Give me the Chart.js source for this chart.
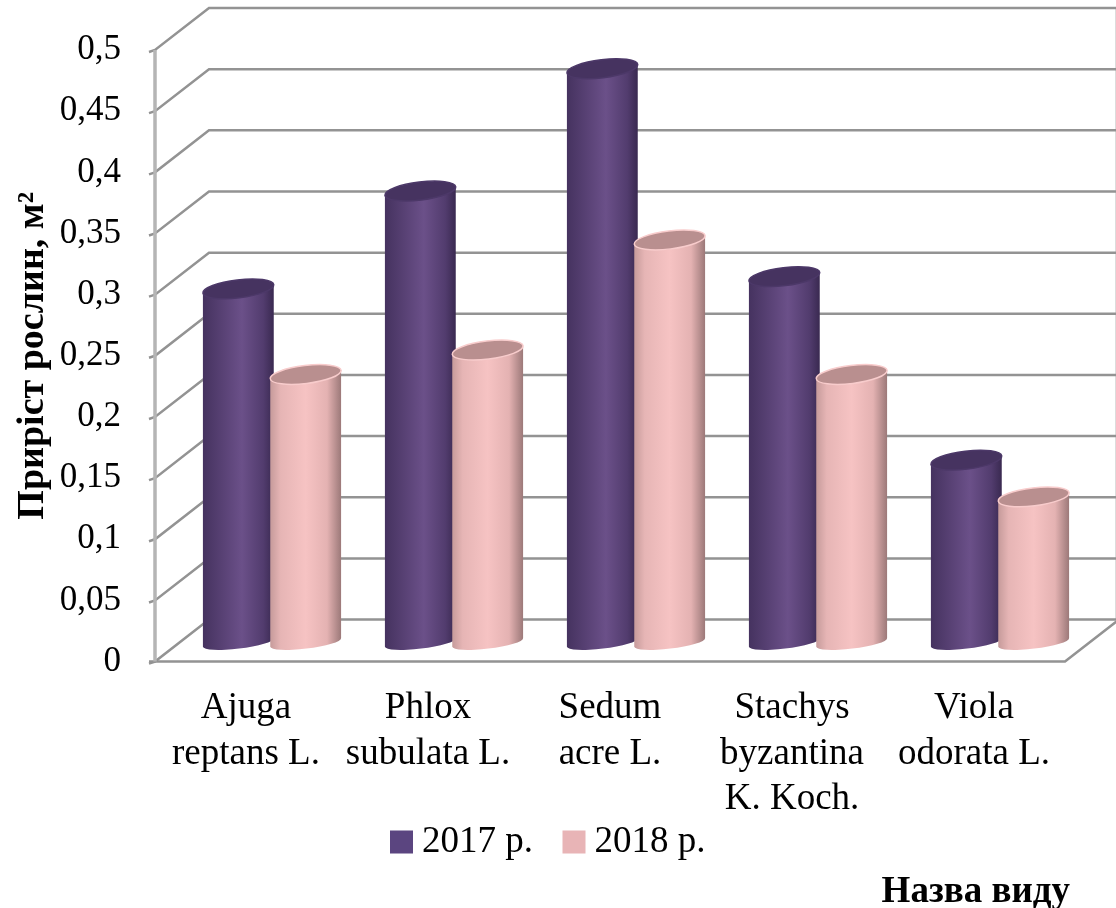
<!DOCTYPE html>
<html lang="uk">

<head>
    <meta charset="UTF-8">
    <title>Приріст рослин</title>
    <script src="https://cdn.jsdelivr.net/npm/chart.js"></script>
    <style>
        body {
            margin: 0;
            background: #fff;
        }
    </style>
</head>

<body>
    <canvas id="chart" width="1116" height="908"></canvas>
    <script>
        const categories = [
            ['Ajuga', 'reptans L.'],
            ['Phlox', 'subulata L.'],
            ['Sedum', 'acre L.'],
            ['Stachys', 'byzantina', 'K. Koch.'],
            ['Viola', 'odorata L.']
        ];
        const values2017 = [0.29, 0.37, 0.47, 0.30, 0.15];
        const values2018 = [0.22, 0.24, 0.33, 0.22, 0.12];
        const yTickLabels = ['0', '0,05', '0,1', '0,15', '0,2', '0,25', '0,3', '0,35', '0,4', '0,45', '0,5'];

        const fontFamily = '"Liberation Serif", "Times New Roman", serif';

        // depth of the fake 3d box and where the bars stand inside it
        const wallDx = 54, wallDy = -42;
        const barDx = 26, barDy = -18;
        const tilt = 0.12;

        const bodyStops = [
            [[0, '#45325f'], [0.55, '#6b5089'], [0.85, '#523c6e'], [1, '#392950']],
            [[0, '#c59a9a'], [0.15, '#e6b5b5'], [0.5, '#f6c3c3'], [0.8, '#e4b2b2'], [1, '#9b7878']]
        ];
        const topFill = ['#463360', '#b98f8f'];
        const topRim = ['#4c3868', '#f8cccc'];

        function drawWalls(chart) {
            const ctx = chart.ctx;
            const area = chart.chartArea;
            const yScale = chart.scales.y;
            ctx.save();
            // faint right edge of the back wall
            ctx.lineWidth = 1;
            ctx.strokeStyle = '#dcdcdc';
            ctx.beginPath();
            ctx.moveTo(chart.width - 0.5, area.top + wallDy);
            ctx.lineTo(chart.width - 0.5, area.bottom + wallDy);
            ctx.stroke();

            ctx.lineWidth = 2.5;
            ctx.strokeStyle = '#939393';
            yScale.ticks.forEach(function (tick) {
                const y = yScale.getPixelForValue(tick.value);
                ctx.beginPath();
                ctx.moveTo(area.left - 6, y + 2);
                ctx.lineTo(area.left, y);
                ctx.lineTo(area.left + wallDx, y + wallDy);
                ctx.lineTo(chart.width, y + wallDy);
                ctx.stroke();
            });
            // floor
            ctx.beginPath();
            ctx.moveTo(area.left - 6, area.bottom);
            ctx.lineTo(area.right, area.bottom);
            ctx.lineTo(area.right + wallDx, area.bottom + wallDy);
            ctx.stroke();
            // axis line
            ctx.strokeStyle = '#b5b5b5';
            ctx.lineWidth = 3.5;
            ctx.beginPath();
            ctx.moveTo(area.left, area.top);
            ctx.lineTo(area.left, area.bottom);
            ctx.stroke();
            ctx.restore();
        }

        function drawCylinder(ctx, bar, index) {
            const cx = bar.x + barDx;
            const topY = bar.y + barDy;
            const baseY = bar.base + barDy;
            const rx = bar.width / 2 + 2;
            const ry = 9;
            const grad = ctx.createLinearGradient(cx - rx, 0, cx + rx, 0);
            bodyStops[index].forEach(function (s) {
                grad.addColorStop(s[0], s[1]);
            });
            const ox = rx * Math.cos(tilt);
            const oy = rx * Math.sin(tilt);

            ctx.beginPath();
            ctx.ellipse(cx, baseY - 1, rx, 6, -tilt, Math.PI, 0, true);
            ctx.lineTo(cx + ox, topY - oy);
            ctx.lineTo(cx - ox, topY + oy);
            ctx.closePath();
            ctx.fillStyle = grad;
            ctx.fill();

            ctx.beginPath();
            ctx.ellipse(cx, topY, rx, ry, -tilt, 0, Math.PI * 2);
            ctx.fillStyle = topFill[index];
            ctx.fill();
            ctx.lineWidth = 1.5;
            ctx.strokeStyle = topRim[index];
            ctx.stroke();
        }

        const fake3d = {
            id: 'fake3d',
            afterLayout(chart) {
                // legend and the bottom title sit off the plot centre in the original
                chart.legend.left += 20;
                chart.legend.right += 20;
                chart.titleBlock.left += 5;
                chart.titleBlock.right += 5;
                // the three line label hangs past the fitted axis height, keep it from being clipped
                chart.scales.x.bottom = chart.height;
            },
            beforeDatasetsDraw(chart) {
                drawWalls(chart);
                chart.data.datasets.forEach(function (ds, index) {
                    chart.getDatasetMeta(index).data.forEach(function (bar) {
                        drawCylinder(chart.ctx, bar, index);
                    });
                });
            },
            // the cylinders above replace the flat bars
            beforeDatasetDraw() {
                return false;
            }
        };

        new Chart(document.getElementById('chart'), {
            type: 'bar',
            plugins: [fake3d],
            data: {
                labels: categories,
                datasets: [
                    { label: '2017 р.', data: values2017, backgroundColor: '#5b4580', borderWidth: 0 },
                    { label: '2018 р.', data: values2018, backgroundColor: '#e8b4b6', borderWidth: 0 }
                ]
            },
            options: {
                responsive: false,
                animation: false,
                categoryPercentage: 0.74,
                barPercentage: 1,
                layout: { padding: { top: 50, right: 51, bottom: -7, left: 0 } },
                scales: {
                    x: {
                        grid: { display: false },
                        border: { display: false },
                        afterFit(scale) { scale.height = 123; },
                        ticks: {
                            color: '#000',
                            padding: 16,
                            maxRotation: 0,
                            autoSkip: false,
                            font: { family: fontFamily, size: 37, lineHeight: 1.23 }
                        }
                    },
                    y: {
                        min: 0,
                        max: 0.5,
                        grid: { display: false },
                        border: { display: false },
                        afterFit(scale) { scale.width = 155; },
                        ticks: {
                            stepSize: 0.05,
                            color: '#000',
                            padding: 26,
                            font: { family: fontFamily, size: 35 },
                            callback: function (value, index) { return yTickLabels[index]; }
                        },
                        title: {
                            display: true,
                            text: 'Приріст рослин, м²',
                            color: '#000',
                            padding: { top: 10, bottom: 0 },
                            font: { family: fontFamily, size: 38, weight: 'bold' }
                        }
                    }
                },
                plugins: {
                    tooltip: { enabled: false },
                    legend: {
                        position: 'bottom',
                        labels: {
                            color: '#000',
                            usePointStyle: true,
                            pointStyle: 'rect',
                            boxWidth: 4,
                            boxHeight: 23,
                            padding: 39,
                            font: { family: fontFamily, size: 37 }
                        }
                    },
                    title: {
                        display: true,
                        position: 'bottom',
                        align: 'end',
                        text: 'Назва виду',
                        color: '#000',
                        padding: { top: 0, bottom: 0 },
                        font: { family: fontFamily, size: 37, weight: 'bold' }
                    }
                }
            }
        });
    </script>
</body>

</html>
